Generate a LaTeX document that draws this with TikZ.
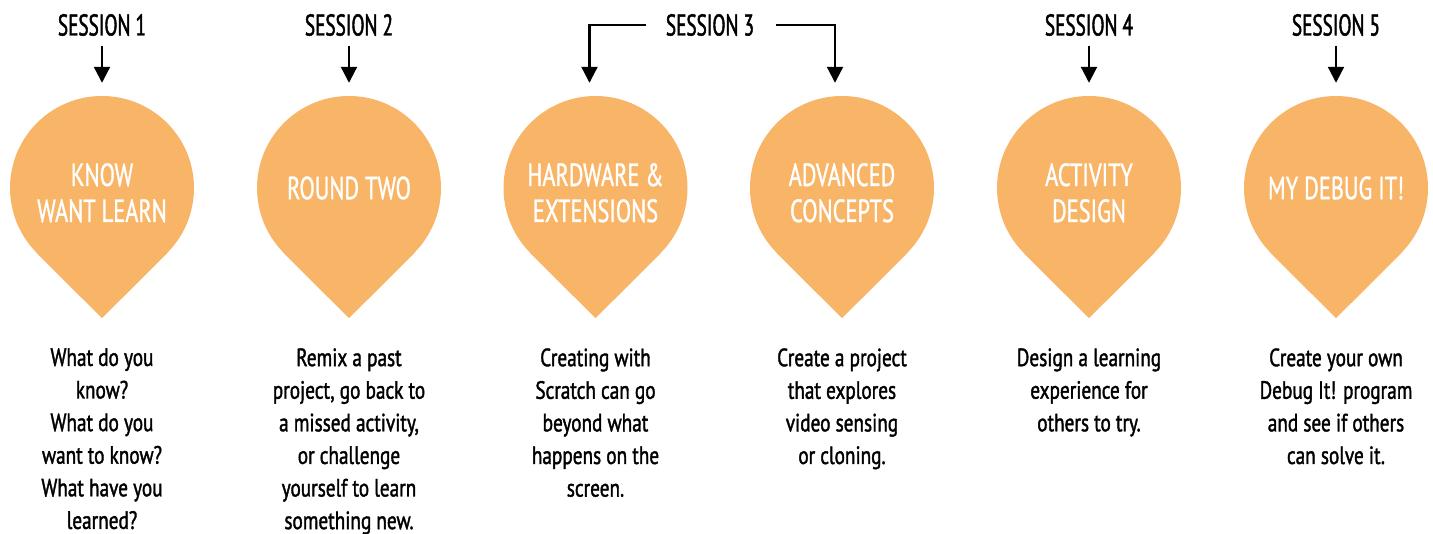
\documentclass[tikz,border=0pt]{standalone}
\usepackage{fontspec}
\setmainfont{PT Sans}[FakeStretch=0.7,FakeBold=1]
\newfontfamily\sessfont{PT Sans}[FakeStretch=0.64,FakeBold=1.5]
\newfontfamily\descfont{PT Sans}[FakeStretch=0.77,FakeBold=1.5]
\usetikzlibrary{arrows.meta,positioning}
\definecolor{pinorange}{RGB}{249,181,103}

\begin{document}
\begin{tikzpicture}[x=1pt,y=1pt,
  droplet/.style={circle,fill=pinorange,minimum size=184pt,inner sep=0pt,text=white,align=center,font=\fontsize{32}{36}\selectfont},
  twoline/.style={text height=68pt,text depth=0pt},
  sess/.style={inner sep=0pt,text height=21pt,text depth=0pt,font=\sessfont\fontsize{30}{36}\selectfont},
  desc/.style={inner sep=0pt,align=center,font=\descfont\fontsize{25}{32.6}\selectfont},
  arr/.style={-{Triangle[width=16pt,length=16pt]},line width=2.2pt,shorten <=10pt,shorten >=13pt}]
\useasboundingbox (0,0) rectangle (1433,534);

\node[droplet,twoline] (p1) at (102,346) {KNOW\\WANT LEARN};
\node[droplet] (p2) at (349,346) {ROUND TWO};
\node[droplet,twoline] (p3) at (595.5,346) {HARDWARE \&\\EXTENSIONS};
\node[droplet,twoline] (p4) at (842,346) {ADVANCED\\CONCEPTS};
\node[droplet,twoline] (p5) at (1089,346) {ACTIVITY\\DESIGN};
\node[droplet] (p6) at (1336,346) {MY DEBUG IT!};
\fill[pinorange] (p1.-45) -- ([yshift=-38pt]p1.south) -- (p1.-135) -- cycle;
\fill[pinorange] (p2.-45) -- ([yshift=-38pt]p2.south) -- (p2.-135) -- cycle;
\fill[pinorange] (p3.-45) -- ([yshift=-38pt]p3.south) -- (p3.-135) -- cycle;
\fill[pinorange] (p4.-45) -- ([yshift=-38pt]p4.south) -- (p4.-135) -- cycle;
\fill[pinorange] (p5.-45) -- ([yshift=-38pt]p5.south) -- (p5.-135) -- cycle;
\fill[pinorange] (p6.-45) -- ([yshift=-38pt]p6.south) -- (p6.-135) -- cycle;

\node[sess] (s1) at (102,509) {SESSION 1};
\node[sess] (s2) at (349,509) {SESSION 2};
\node[sess] (s3) at (710,509) {SESSION 3};
\node[sess] (s4) at (1089,509) {SESSION 4};
\node[sess] (s5) at (1336,509) {SESSION 5};
\draw[arr] (s1) -- (p1);
\draw[arr] (s2) -- (p2);
\draw[arr,shorten <=20pt] (s3.west) -| ([xshift=-6pt]p3.north);
\draw[arr,shorten <=22pt] (s3.east) -| ([xshift=-7pt]p4.north);
\draw[arr] (s4) -- (p5);
\draw[arr] (s5) -- (p6);

\node[desc,below=68pt of p1] (d1) {What do you\\know?\\What do you\\want to know?\\What have you\\learned?};
\node[desc,below=68pt of p2] (d2) {Remix a past\\project, go back to\\a missed activity,\\or challenge\\yourself to learn\\something new.};
\node[desc,below=68pt of p3] (d3) {Creating with\\Scratch can go\\beyond what\\happens on the\\screen.};
\node[desc,below=68pt of p4] (d4) {Create a project\\that explores\\video sensing\\or cloning.};
\node[desc,below=68pt of p5] (d5) {Design a learning\\experience for\\others to try.};
\node[desc,below=68pt of p6] (d6) {Create your own\\Debug It! program\\and see if others\\can solve it.};
\end{tikzpicture}
\end{document}
